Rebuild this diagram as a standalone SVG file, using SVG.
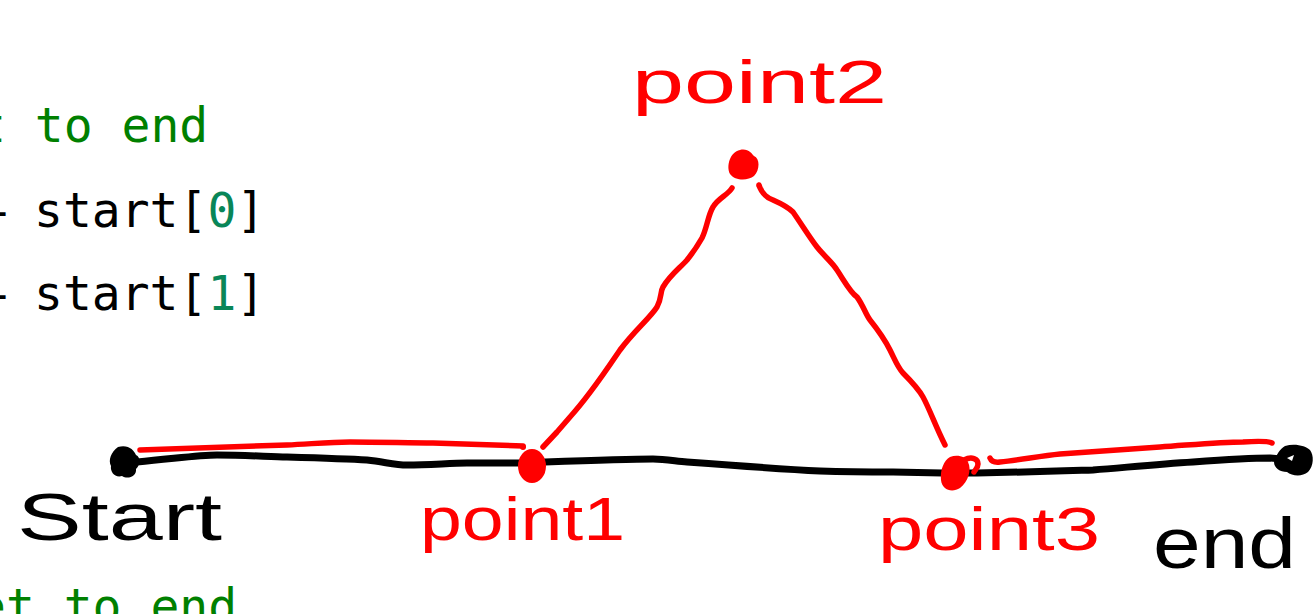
<svg xmlns="http://www.w3.org/2000/svg" width="1314" height="614" viewBox="0 0 1314 614">
<style>
.code{font-family:"DejaVu Sans Mono","Liberation Mono",monospace;font-size:48px;white-space:pre}
.cmt{fill:#008000}
.num{fill:#098658}
.blk{fill:#000}
.hand{font-family:"Liberation Sans","DejaVu Sans",sans-serif}
.hr{fill:#ff0000}
.hb{fill:#000}
.lb{fill:none;stroke:#000;stroke-width:7;stroke-linecap:round;stroke-linejoin:round}
.lr{fill:none;stroke:#ff0000;stroke-width:5.5;stroke-linecap:round;stroke-linejoin:round}
.dr{fill:#ff0000}
.db{fill:#000}
</style>
<rect width="1314" height="614" fill="#fff"/>
<g id="code">
<text class="code cmt" x="-23" y="142" xml:space="preserve">t to end</text>
<text class="code blk" x="-15" y="227" xml:space="preserve">-<tspan x="34">start[</tspan><tspan class="num">0</tspan>]</text>
<text class="code blk" x="-15" y="310" xml:space="preserve">-<tspan x="34">start[</tspan><tspan class="num">1</tspan>]</text>
<text class="code cmt" x="-23" y="623" xml:space="preserve">et to end</text>
</g>
<g id="connectors">
<path class="lb" d="M123,463 L137,462 C180,458 200,455 217,455 C250,455 270,457 287,457 C320,458 350,459 367,460 C385,462 395,465 407,465 C430,465 450,463 467,463 L530,463 L545,462 C600,460 630,459 653,459 C665,459 675,461 687,462 C740,466 780,469 820,471 C850,472 870,472 893,472 L942,473 L977,473 C1030,472 1060,471 1093,470 C1130,467 1160,464 1193,462 C1220,460 1250,458 1270,458 L1293,460"/>
<path class="lr" d="M140,450 C200,448 250,446 287,445 C310,444 330,442 350,442 C380,442 410,443 433,443 C470,444 500,445 523,446"/>
<path class="lr" d="M543,447 L557,432 L570,417 C590,395 605,372 620,350 C635,330 650,318 657,307 C662,298 660,292 663,287 C670,275 680,268 687,260 C695,250 698,245 702,238 C707,228 708,215 713,207 C718,198 728,195 732,188"/>
<path class="lr" d="M759,185 C762,195 768,198 773,200 C782,204 788,207 793,212 C802,225 810,238 817,247 C825,257 832,262 837,270 C845,282 850,292 857,297 C863,305 866,315 870,320 C878,330 885,340 890,350 C895,360 898,368 903,373 C912,382 918,388 923,397 C930,410 935,425 945,445"/>
<path class="lr" d="M990,458 Q992,463 1000,462 C1020,460 1040,456 1060,454 C1100,451 1130,449 1160,447 C1190,445 1220,442 1243,442 C1258,441 1268,441 1272,443"/>
</g>
<g id="start">
<path class="db" d="M118,447 C128,444 134,450 136,455 C141,457 140,466 136,469 C137,476 128,480 122,476 C115,478 110,472 111,466 C108,460 111,452 118,447 Z"/>
<text class="hand hb" x="17" y="540" font-size="66" textLength="205" lengthAdjust="spacingAndGlyphs">Start</text>
</g>
<g id="point1">
<ellipse class="dr" cx="532" cy="466" rx="14" ry="17"/>
<circle class="dr" cx="523" cy="447" r="3"/>
<text class="hand hr" x="420" y="540" font-size="62" textLength="205" lengthAdjust="spacingAndGlyphs">point1</text>
</g>
<g id="point2">
<path class="dr" d="M740,150 C748,148 752,154 754,156 C760,158 760,170 754,176 C748,181 735,181 730,174 C726,166 730,152 740,150 Z"/>
<circle class="dr" cx="759" cy="186" r="2.5"/>
<text class="hand hr" x="632" y="103" font-size="62" textLength="255" lengthAdjust="spacingAndGlyphs">point2</text>
</g>
<g id="point3">
<path class="dr" d="M950,457 C958,454 966,457 968,462 C972,470 968,482 960,488 C952,493 942,490 941,480 C940,470 944,460 950,457 Z"/>
<path class="lr" d="M964,460 C972,456 978,459 978,464 C978,468 975,470 974,472"/>
<text class="hand hr" x="878" y="550" font-size="62" textLength="222" lengthAdjust="spacingAndGlyphs">point3</text>
</g>
<g id="end">
<path class="db" d="M1285,446 C1295,443 1306,446 1310,450 C1314,455 1314,466 1308,472 C1302,477 1292,476 1287,472 C1280,472 1274,468 1274,462 C1276,455 1280,449 1285,446 Z"/>
<path fill="#fff" d="M1287,458 L1294,455 L1292,461 Z"/>
<text class="hand hb" x="1153" y="568" font-size="72" textLength="143" lengthAdjust="spacingAndGlyphs">end</text>
</g>
</svg>
